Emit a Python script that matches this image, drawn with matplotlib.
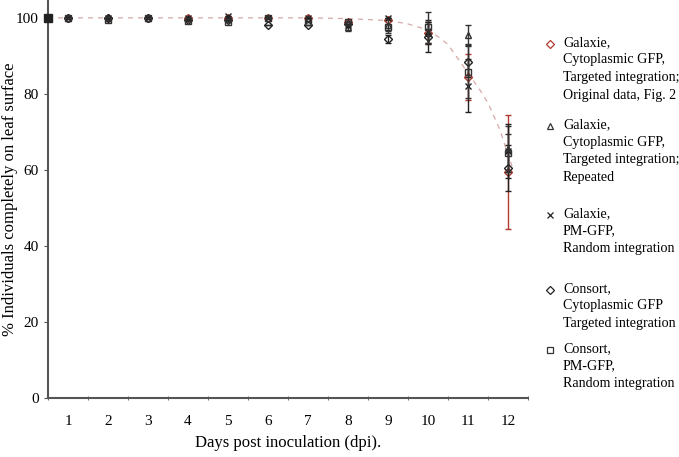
import numpy as np
import matplotlib
matplotlib.use("Agg")
import matplotlib.pyplot as plt
from matplotlib.lines import Line2D

plt.rcParams['font.family'] = ['Liberation Serif', 'DejaVu Serif']

days = [1, 2, 3, 4, 5, 6, 7, 8, 9, 10, 11, 12]

# Galaxie, cytoplasmic GFP, targeted integration, original data (Fig. 2)
gal_cyto_orig = [100, 100, 100, 100, 100, 100, 100, 99, 99.5, 96, 84.5, 59.5]
gal_cyto_orig_err = [0, 0, 0, 0, 0, 0, 0, 0, 0, 3, 6, 15]
# Galaxie, cytoplasmic GFP, targeted integration, repeated
gal_cyto_rep = [100, 100, 100, 100, 100, 100, 100, 97.5, 98, 96, 95.5, 65.5]
gal_cyto_rep_err = [0, 0, 0, 0, 0, 0, 0, 1, 2, 3, 2.5, 6]
# Galaxie, PM-GFP, random integration
gal_pm = [100, 100, 100, 100, 100.5, 100, 100, 98, 100, 96.5, 82.2, 65]
gal_pm_err = [0, 0, 0, 0, 0, 0, 0, 0, 0, 3, 7, 7]
# Consort, cytoplasmic GFP, targeted integration
con_cyto = [100, 100, 100, 99.5, 99.5, 98, 98, 98.5, 94.5, 95, 88.5, 60.5]
con_cyto_err = [0, 0, 0, 0, 0, 0, 0, 0, 1, 4, 4, 6]
# Consort, PM-GFP, random integration
con_pm = [100, 99.5, 100, 99.3, 99, 100, 99, 99, 97.5, 97.5, 85.8, 64.5]
con_pm_err = [0, 0, 0, 0, 0, 0, 0, 0, 1, 4, 7, 5]

# fitted curve
fit_days = [0.5, 1, 2, 3, 4, 5, 6, 7, 8, 9, 9.5, 10, 10.3, 10.5, 10.8, 11, 11.3, 11.5, 11.8, 12, 12.1]
fit_vals = [100, 100, 100, 100, 100, 100, 100, 100, 99.8, 99.3, 98.4, 96.8, 94.7, 93, 88.5, 85.5, 81, 77.6, 70.5, 64, 61]

labels = [
    "Galaxie,\nCytoplasmic GFP,\nTargeted integration;\nOriginal data, Fig. 2",
    "Galaxie,\nCytoplasmic GFP,\nTargeted integration;\nRepeated",
    "Galaxie,\nPM-GFP,\nRandom integration",
    "Consort,\nCytoplasmic GFP\nTargeted integration",
    "Consort,\nPM-GFP,\nRandom integration",
]

fig = plt.figure(figsize=(6.79, 4.57), dpi=100)
ax = fig.add_axes([48 / 679, 59 / 457, 480 / 679, 398 / 457])

ax.plot(fit_days, fit_vals, linestyle=(0, (4, 4)), color='#d8a8a8', linewidth=0.9, zorder=1)
ax.plot(fit_days[0], fit_vals[0], 's', color='#222222', markersize=6, clip_on=False, zorder=5)

series = [
    (gal_cyto_orig, gal_cyto_orig_err, 'D', '#b03a30'),
    (gal_cyto_rep, gal_cyto_rep_err, '^', '#333333'),
    (gal_pm, gal_pm_err, 'x', '#222222'),
    (con_cyto, con_cyto_err, 'D', '#222222'),
    (con_pm, con_pm_err, 's', '#333333'),
]
for k, (vals, err, mk, col) in enumerate(series):
    ms = 4 if mk == 'D' else 5
    ax.errorbar(days, vals, yerr=err, fmt=mk, color=col, ecolor=col,
                markerfacecolor='none' if mk != 'x' else col,
                markeredgecolor=col, markersize=ms, markeredgewidth=1.0,
                elinewidth=1, capsize=2.5, capthick=0.9, zorder=2 + k * 0.1)

ax.set_xlim(0.5, 12.5)
ax.set_ylim(0, 104.7)
ax.set_yticks([0, 20, 40, 60, 80, 100])
ax.set_xticks(days)
ax.set_xticks(np.arange(0.5, 13, 1), minor=True)
ax.tick_params(axis='x', which='major', length=0, pad=12, labelsize=11)
ax.tick_params(axis='x', which='minor', length=3, direction='inout', color='#555555')
ax.tick_params(axis='y', length=3, labelsize=11, color='#555555')
for s in ['top', 'right']:
    ax.spines[s].set_visible(False)
for s in ['left', 'bottom']:
    ax.spines[s].set_linewidth(1.5)
    ax.spines[s].set_color('#555555')

ax.set_xlabel("Days post inoculation (dpi).", fontsize=12, labelpad=5)
ax.set_ylabel("% Individuals completely on leaf surface", fontsize=12)
ax.yaxis.set_label_coords(-30 / 480, 0.5)

# legend, laid out by hand so the marker sits on the first line
handles = [
    dict(marker='D', color='#b03a30', markerfacecolor='white', markersize=4),
    dict(marker='^', color='#333333', markerfacecolor='white', markersize=5),
    dict(marker='x', color='#222222', markersize=5),
    dict(marker='D', color='#222222', markerfacecolor='white', markersize=4),
    dict(marker='s', color='#333333', markerfacecolor='white', markersize=5),
]
entry_tops = [44, 126, 215, 290, 350]
for lab, h, top in zip(labels, handles, entry_tops):
    fy = 1 - top / 457
    fig.add_artist(Line2D([550 / 679], [fy], linestyle='', markeredgewidth=0.9,
                          transform=fig.transFigure, **h))
    fig.text(563 / 679, fy + 8 / 457, lab, fontsize=10.1, va='top', ha='left',
             linespacing=1.45, transform=fig.transFigure)

fig.savefig("out.png", dpi=100)
